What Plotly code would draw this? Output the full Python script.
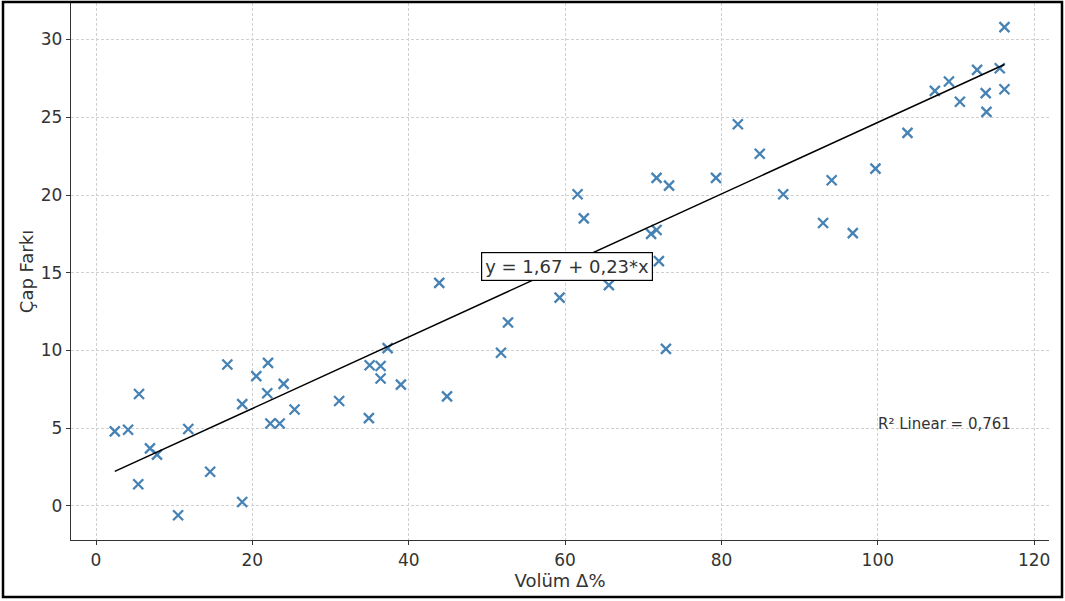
import plotly.graph_objects as go

volum = [2.4, 4.1, 5.5, 5.4, 6.9, 7.8, 10.5, 11.8, 14.6, 16.8, 18.7, 18.7, 20.5, 22.0, 21.9,
         22.3, 23.5, 24.0, 25.4, 31.1, 34.9, 35.0, 36.4, 36.4, 37.3, 39.0, 43.9, 44.9, 51.8,
         52.7, 59.3, 61.6, 62.4, 65.6, 71.0, 71.7, 71.7, 72.0, 72.9, 73.3, 79.3, 82.1, 84.9,
         87.9, 93.0, 94.1, 96.8, 99.7, 103.8, 107.3, 109.1, 110.5, 112.7, 113.8, 113.9,
         115.6, 116.2, 116.2]
cap_farki = [4.8, 4.9, 7.2, 1.4, 3.7, 3.3, -0.6, 4.95, 2.2, 9.1, 6.55, 0.25, 8.35, 9.2, 7.25,
             5.3, 5.3, 7.85, 6.2, 6.75, 5.65, 9.05, 9.0, 8.2, 10.15, 7.8, 14.35, 7.05, 9.85,
             11.8, 13.4, 20.05, 18.5, 14.2, 17.5, 17.75, 21.1, 15.75, 10.1, 20.6, 21.1, 24.55,
             22.65, 20.05, 18.2, 20.95, 17.55, 21.7, 24.0, 26.7, 27.3, 26.0, 28.05, 26.55,
             25.35, 28.15, 30.8, 26.8]

intercept = 1.67
slope = 0.23
equation_text = "y = 1,67 + 0,23*x"
r2_text = "R² Linear = 0,761"

x_ticks = [0, 20, 40, 60, 80, 100, 120]
y_ticks = [0, 5, 10, 15, 20, 25, 30]

x_min, x_max = min(volum), max(volum)
line_x = [x_min, x_max]
line_y = [intercept + slope * v for v in line_x]

FONT = "DejaVu Sans"
TXT = "#333333"

fig = go.Figure()
fig.add_trace(go.Scatter(
    x=volum, y=cap_farki, mode="markers",
    marker=dict(symbol="x-thin", size=10, color="#4682B4",
                line=dict(width=2.3, color="#4682B4")),
    showlegend=False, hoverinfo="x+y"))
fig.add_trace(go.Scatter(
    x=line_x, y=line_y, mode="lines",
    line=dict(color="black", width=1.5), showlegend=False))

fig.add_annotation(x=60.2, y=15.4, xref="x", yref="y", text=equation_text,
                   showarrow=False, font=dict(family=FONT, size=18, color=TXT),
                   bgcolor="white", bordercolor="black", borderwidth=1.2, borderpad=3)
fig.add_annotation(x=99.8, y=5.3, xref="x", yref="y", text=r2_text, xanchor="left",
                   showarrow=False, font=dict(family=FONT, size=15, color=TXT))

# figure frame
fig.add_shape(type="rect", xref="paper", yref="paper",
              x0=(3 - 71) / 978, x1=(1062 - 71) / 978,
              y0=(540 - 597) / 537, y1=(540 - 2) / 537,
              line=dict(color="black", width=2.5), layer="above")

axis_common = dict(
    showgrid=True, gridcolor="#d0d0d0", griddash="3px,2px", gridwidth=1,
    zeroline=False, showline=True, linecolor="#333333", linewidth=1.3,
    ticks="outside", ticklen=4, tickcolor="#333333", tickwidth=1.2,
    tickfont=dict(family=FONT, size=17, color=TXT),
)
fig.update_xaxes(range=[-3.2, 121.9], tickvals=x_ticks,
                 title=dict(text="Volüm Δ%", font=dict(family=FONT, size=18, color=TXT),
                            standoff=0),
                 **axis_common)
fig.update_yaxes(range=[-2.19, 32.35], tickvals=y_ticks,
                 title=dict(text="Çap Farkı", font=dict(family=FONT, size=18, color=TXT),
                            standoff=2),
                 **axis_common)

fig.update_layout(
    width=1065, height=601,
    margin=dict(l=71, r=16, t=3, b=61),
    paper_bgcolor="white", plot_bgcolor="white",
)
fig.write_html("out.html")
